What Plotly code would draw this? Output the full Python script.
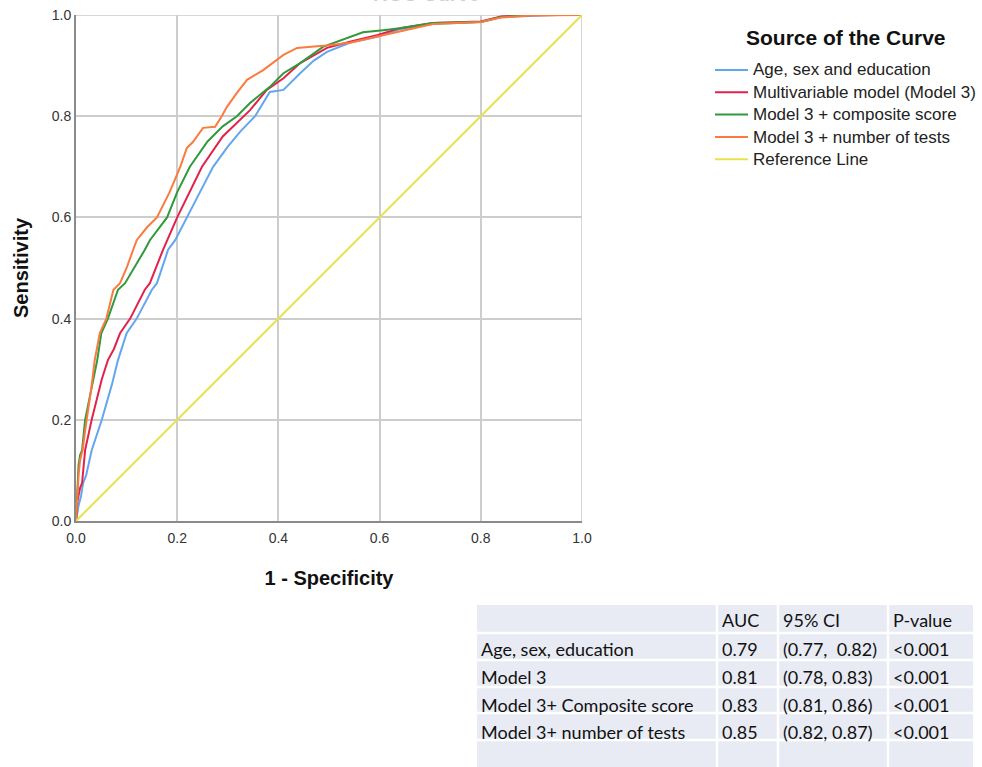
import plotly.graph_objects as go

W, H = 982, 767

# ---- data ----
blue_x = [0, 0.005, 0.01, 0.014, 0.02, 0.031, 0.051, 0.071, 0.083, 0.1, 0.12, 0.15, 0.16, 0.182, 0.196, 0.22, 0.245, 0.271, 0.3, 0.325, 0.354, 0.383, 0.41, 0.443, 0.47, 0.496, 0.541, 0.595, 0.64, 0.705, 0.8, 0.84, 0.9, 0.95, 1.0]
blue_y = [0, 0.03, 0.05, 0.075, 0.09, 0.14, 0.2, 0.27, 0.318, 0.371, 0.4, 0.457, 0.47, 0.536, 0.555, 0.6, 0.65, 0.7, 0.74, 0.77, 0.8, 0.848, 0.852, 0.885, 0.91, 0.927, 0.945, 0.957, 0.972, 0.982, 0.986, 0.996, 0.998, 1.0, 1.0]

red_x = [0, 0.003, 0.008, 0.012, 0.018, 0.031, 0.051, 0.063, 0.075, 0.087, 0.107, 0.136, 0.146, 0.172, 0.2, 0.225, 0.249, 0.29, 0.33, 0.344, 0.377, 0.41, 0.443, 0.496, 0.541, 0.595, 0.64, 0.705, 0.8, 0.84, 0.9, 1.0]
red_y = [0, 0.04, 0.065, 0.075, 0.14, 0.2, 0.28, 0.318, 0.34, 0.371, 0.4, 0.457, 0.47, 0.536, 0.6, 0.65, 0.7, 0.76, 0.8, 0.812, 0.852, 0.875, 0.905, 0.935, 0.947, 0.96, 0.974, 0.984, 0.987, 0.997, 1.0, 1.0]

green_x = [0, 0.003, 0.005, 0.008, 0.012, 0.018, 0.03, 0.042, 0.05, 0.063, 0.083, 0.097, 0.136, 0.146, 0.18, 0.2, 0.225, 0.26, 0.29, 0.318, 0.344, 0.383, 0.41, 0.443, 0.488, 0.541, 0.567, 0.607, 0.64, 0.705, 0.8, 0.84, 0.9, 1.0]
green_y = [0, 0.06, 0.11, 0.13, 0.14, 0.2, 0.26, 0.318, 0.371, 0.4, 0.457, 0.47, 0.536, 0.555, 0.6, 0.65, 0.7, 0.75, 0.78, 0.8, 0.826, 0.858, 0.885, 0.905, 0.937, 0.957, 0.966, 0.970, 0.974, 0.984, 0.986, 0.996, 1.0, 1.0]

orange_x = [0, 0.002, 0.005, 0.008, 0.013, 0.021, 0.03, 0.037, 0.047, 0.06, 0.074, 0.087, 0.1, 0.113, 0.12, 0.14, 0.16, 0.185, 0.206, 0.219, 0.231, 0.251, 0.275, 0.288, 0.298, 0.318, 0.338, 0.37, 0.41, 0.437, 0.488, 0.541, 0.595, 0.654, 0.705, 0.8, 0.84, 0.9, 1.0]
orange_y = [0, 0.05, 0.09, 0.12, 0.14, 0.2, 0.26, 0.318, 0.371, 0.4, 0.457, 0.47, 0.5, 0.536, 0.555, 0.58, 0.6, 0.65, 0.7, 0.737, 0.749, 0.777, 0.779, 0.8, 0.818, 0.846, 0.872, 0.891, 0.921, 0.935, 0.939, 0.945, 0.957, 0.970, 0.982, 0.986, 0.995, 0.999, 1.0]

ref_x = [0, 1]
ref_y = [0, 1]

series_names = ["Age, sex and education", "Multivariable model (Model 3)",
                "Model 3 + composite score", "Model 3 + number of tests", "Reference Line"]
series_colors = ["#62a6f0", "#e2224c", "#2f9a3c", "#fb7a3e", "#e7e24e"]

tick_vals = [0.0, 0.2, 0.4, 0.6, 0.8, 1.0]
tick_text = ["0.0", "0.2", "0.4", "0.6", "0.8", "1.0"]

table_header = ["", "AUC", "95% CI", "P-value"]
table_models = ["Age, sex, education", "Model 3", "Model 3+ Composite score", "Model 3+ number of tests", ""]
table_auc = ["0.79", "0.81", "0.83", "0.85", ""]
table_ci = ["(0.77,  0.82)", "(0.78, 0.83)", "(0.81, 0.86)", "(0.82, 0.87)", ""]
table_p = ["<0.001", "<0.001", "<0.001", "<0.001", ""]

# ---- figure ----
fig = go.Figure()
xs = [blue_x, red_x, green_x, orange_x, ref_x]
ys = [blue_y, red_y, green_y, orange_y, ref_y]
for name, color, x, y in zip(series_names, series_colors, xs, ys):
    fig.add_trace(go.Scatter(x=x, y=y, mode="lines", name=name, showlegend=False,
                             line=dict(color=color, width=2)))

def px(xp):
    return xp / W

def py(yp):
    return 1 - yp / H

shapes = []
# light frame lines on top and right of plot area
shapes.append(dict(type="line", xref="x", yref="y", x0=0, x1=1, y0=1, y1=1,
                   line=dict(color="#d6d6d6", width=2), layer="below"))
shapes.append(dict(type="line", xref="x", yref="y", x0=1, x1=1, y0=0, y1=1,
                   line=dict(color="#d6d6d6", width=2), layer="below"))

annotations = [
    dict(text="<b>Source of the Curve</b>", x=px(846), y=py(37), xref="paper", yref="paper",
         xanchor="center", yanchor="middle", showarrow=False,
         font=dict(size=21, color="#111111")),
    dict(text="<b>ROC Curve</b>", x=px(426), y=py(7), xref="paper", yref="paper",
         xanchor="center", yanchor="bottom", showarrow=False,
         font=dict(size=20, color="#d0d0d0")),
]

# legend entries (line sample + label)
legend_y = [70, 92.3, 114.6, 137, 159.3]
for name, color, ly in zip(series_names, series_colors, legend_y):
    shapes.append(dict(type="line", xref="paper", yref="paper",
                       x0=px(715), x1=px(748), y0=py(ly), y1=py(ly),
                       line=dict(color=color, width=2)))
    annotations.append(dict(text=name, x=px(751), y=py(ly), xref="paper", yref="paper",
                            xanchor="left", yanchor="middle", showarrow=False,
                            font=dict(family="Liberation Sans, Arial, sans-serif", size=17, color="#222222")))

# table layout (pixels)
col_edges = [477, 717, 778, 888, 973]
row_edges = [605, 633, 660, 687, 713, 740, 767]
row_text_y = [620, 649, 677, 705, 732, 754]
col_text_x = [479, 720, 781, 891]

shapes.append(dict(type="rect", xref="paper", yref="paper",
                   x0=px(col_edges[0]), x1=px(col_edges[-1]),
                   y0=py(row_edges[-1]), y1=py(row_edges[0]),
                   fillcolor="#e8ebf4", line=dict(width=0), layer="below"))
for r in row_edges[1:-1]:
    shapes.append(dict(type="line", xref="paper", yref="paper",
                       x0=px(col_edges[0]), x1=px(col_edges[-1]), y0=py(r), y1=py(r),
                       line=dict(color="white", width=2.5)))
for c in col_edges[1:-1]:
    shapes.append(dict(type="line", xref="paper", yref="paper",
                       x0=px(c), x1=px(c), y0=py(row_edges[-1]), y1=py(row_edges[0]),
                       line=dict(color="white", width=2.5)))

columns = [[table_header[0]] + table_models, [table_header[1]] + table_auc,
           [table_header[2]] + table_ci, [table_header[3]] + table_p]
for ci, col in enumerate(columns):
    for ri, val in enumerate(col):
        if not val:
            continue
        annotations.append(dict(text=val.replace("<", "&lt;"), x=px(col_text_x[ci]), y=py(row_text_y[ri]),
                                xref="paper", yref="paper", xanchor="left", yanchor="middle",
                                showarrow=False,
                                font=dict(family="Lato, Open Sans, sans-serif", size=18, color="#111111")))

fig.update_layout(
    width=W, height=H,
    margin=dict(l=0, r=0, t=0, b=0),
    paper_bgcolor="white", plot_bgcolor="white",
    font=dict(family="Liberation Sans, Arial, sans-serif", color="#222222"),
    showlegend=False,
    xaxis=dict(domain=[px(76), px(582)], range=[0, 1], tickvals=tick_vals, ticktext=tick_text,
               showgrid=True, gridcolor="#cdcdcd", gridwidth=2, zeroline=False,
               showline=True, linecolor="#8a8a8a", linewidth=2, mirror=False,
               ticks="", tickfont=dict(size=14, color="#333333"), ticklabelstandoff=3,
               title=dict(text="<b>1 - Specificity</b>", font=dict(size=20, color="#111111"), standoff=26),
               automargin=False, fixedrange=True),
    yaxis=dict(domain=[py(521), py(15)], range=[0, 1], tickvals=tick_vals, ticktext=tick_text,
               showgrid=True, gridcolor="#cdcdcd", gridwidth=2, zeroline=False,
               showline=True, linecolor="#8a8a8a", linewidth=2,
               ticks="", tickfont=dict(size=14, color="#333333"),
               title=dict(text="<b>Sensitivity</b>", font=dict(size=20, color="#111111"), standoff=18),
               automargin=False, fixedrange=True),
    shapes=shapes,
    annotations=annotations,
)

fig.write_html("out.html", config={"displayModeBar": False},
               post_script="document.body.style.margin='0';")
